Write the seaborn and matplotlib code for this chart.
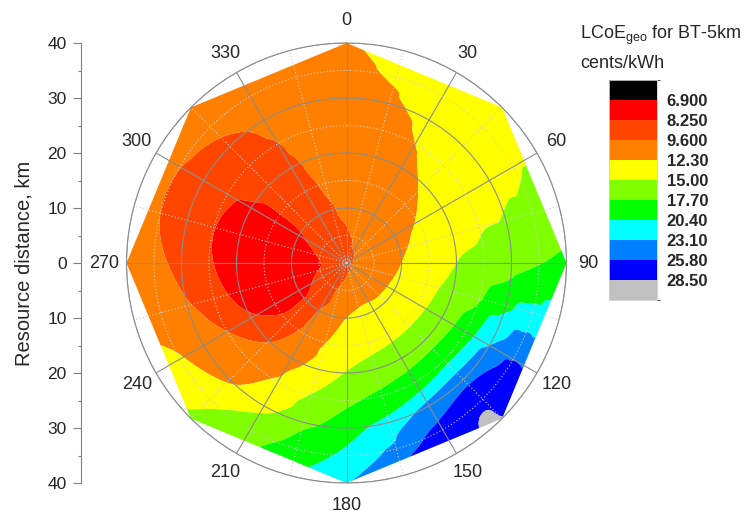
import numpy as np
import matplotlib
matplotlib.use("Agg")
import matplotlib.pyplot as plt
import matplotlib.tri as mtri
from matplotlib.colors import ListedColormap, BoundaryNorm
from matplotlib.cm import ScalarMappable
from matplotlib.patches import Polygon
from matplotlib.ticker import FixedLocator, FuncFormatter
import seaborn as sns

# Sample ring: bearings (deg, clockwise from north) and resource distances (km)
bearing_deg = [0, 45, 90, 135, 180, 225, 270, 315]
distance_km = [5, 10, 15, 20, 25, 30, 35, 40]

# LCoE (cents/kWh) at the plant site and along each bearing
lcoe_center = 9.2
lcoe_b000 = [9.45, 9.9, 10.4, 10.8, 11.15, 11.5, 11.9, 12.17]
lcoe_b045 = [10.1, 11.0, 11.8, 12.5, 13.0, 13.4, 13.8, 14.1]
lcoe_b090 = [10.9, 12.3, 13.7, 15.0, 15.9, 16.8, 17.6, 18.3]
lcoe_b135 = [11.2, 12.8, 14.5, 16.6, 19.6, 24.8, 28.1, 28.55]
lcoe_b180 = [10.2, 12.3, 13.7, 15.1, 17.1, 19.2, 21.0, 23.0]
lcoe_b225 = [8.9, 8.5, 8.7, 9.5, 10.8, 12.0, 14.4, 15.5]
lcoe_b270 = [8.2, 7.4, 7.1, 7.5, 8.4, 9.2, 10.0, 10.6]
lcoe_b315 = [8.9, 8.6, 8.6, 8.7, 8.95, 9.35, 9.9, 10.3]

# Contour levels and legend
level_bounds = [6.9, 8.25, 9.6, 12.3, 15.0, 17.7, 20.4, 23.1, 25.8, 28.5]
level_labels = ["6.900", "8.250", "9.600", "12.30", "15.00",
                "17.70", "20.40", "23.10", "25.80", "28.50"]
band_colors = ["#000000", "#FF0000", "#FF4500", "#FF8000", "#FFFF00",
               "#80FF00", "#00FF00", "#00FFFF", "#0080FF", "#0000FF", "#C0C0C0"]

angle_ticks = list(range(0, 360, 30))
distance_ticks = [-40, -30, -20, -10, 0, 10, 20, 30, 40]

sns.set_style("white")
plt.rcParams["font.family"] = ["Liberation Sans", "DejaVu Sans"]
plt.rcParams["mathtext.fontset"] = "custom"
plt.rcParams["mathtext.rm"] = "Liberation Sans"

fig = plt.figure(figsize=(7.53, 5.15), dpi=100)
W, H = 753, 515
rect = [126.5 / W, (H - 483) / H, 440 / W, 440 / H]

# ---- field on the (bearing, distance) grid, wrapped round at 360 deg ----
profiles = [lcoe_b000, lcoe_b045, lcoe_b090, lcoe_b135,
            lcoe_b180, lcoe_b225, lcoe_b270, lcoe_b315]
theta_nodes = np.array(bearing_deg + [360], float)
r_nodes = np.array([0.0] + distance_km, float)
grid = np.empty((len(r_nodes), len(theta_nodes)))
grid[0, :] = lcoe_center
for j, prof in enumerate(profiles):
    grid[1:, j] = prof
grid[1:, -1] = grid[1:, 0]

# triangulate the rectangular (bearing, distance) grid explicitly
nt, nr = len(theta_nodes), len(r_nodes)
T, R = np.meshgrid(theta_nodes, r_nodes)
tris = []
for i in range(nr - 1):
    for j in range(nt - 1):
        a = i * nt + j
        b, c, d = a + 1, a + nt, a + nt + 1
        tris += [[a, b, d], [a, d, c]]
theta_scale = 4.5  # deg per grid unit, keeps cells roughly isotropic
tri_p = mtri.Triangulation(T.ravel() / theta_scale, R.ravel(), np.array(tris))
interp = mtri.CubicTriInterpolator(tri_p, grid.ravel(), kind="geom")
tri_f, z_f = mtri.UniformTriRefiner(tri_p).refine_field(grid.ravel(), interp, subdiv=5)

th_f = np.deg2rad(tri_f.x * theta_scale)
x_f = tri_f.y * np.sin(th_f)
y_f = tri_f.y * np.cos(th_f)
tri_xy = mtri.Triangulation(x_f, y_f, tri_f.triangles)
# drop collapsed triangles at the origin
p = tri_xy.triangles
area = 0.5 * np.abs((x_f[p[:, 1]] - x_f[p[:, 0]]) * (y_f[p[:, 2]] - y_f[p[:, 0]])
                    - (x_f[p[:, 2]] - x_f[p[:, 0]]) * (y_f[p[:, 1]] - y_f[p[:, 0]]))
tri_xy.set_mask(area < 1e-9)

# ---- filled contours on a Cartesian plane, bounded by the sample octagon ----
ax = fig.add_axes(rect)
levels = [0.0] + level_bounds + [100.0]
cs = ax.tricontourf(tri_xy, z_f, levels=levels, colors=band_colors, antialiased=True)
hull_th = np.deg2rad(bearing_deg)
octagon = Polygon(np.column_stack([40 * np.sin(hull_th), 40 * np.cos(hull_th)]),
                  closed=True, transform=ax.transData, facecolor="none", edgecolor="none")
ax.add_patch(octagon)
cs.set_clip_path(octagon)

ax.set_xlim(-40, 40)
ax.set_ylim(-40, 40)
ax.set_aspect("equal")
ax.set_facecolor("none")
for s in ("top", "right", "bottom"):
    ax.spines[s].set_visible(False)
ax.spines["left"].set_position(("outward", 32.5))
ax.spines["left"].set_color("#808080")
ax.set_xticks([])
ax.yaxis.set_major_locator(FixedLocator(distance_ticks))
ax.yaxis.set_minor_locator(FixedLocator([v + 5 for v in distance_ticks[:-1]]))
ax.yaxis.set_major_formatter(FuncFormatter(lambda v, p: f"{abs(v):.0f}"))
ax.tick_params(axis="y", which="major", length=6, width=0.8, color="#808080",
               labelsize=12.5, pad=4.5, left=True)
ax.tick_params(axis="y", which="minor", length=2.5, width=0.8, color="#808080", left=True)
ax.set_ylabel("Resource distance, km", fontsize=14.5, labelpad=10)

# ---- polar grid overlay ----
pax = fig.add_axes(rect, projection="polar")
pax.set_facecolor("none")
pax.set_theta_zero_location("N")
pax.set_theta_direction(-1)
pax.set_rlim(0, 40)
pax.set_xticks(np.deg2rad(angle_ticks))
pax.set_xticklabels([str(a) for a in angle_ticks], fontsize=13)
pax.set_xticks(np.deg2rad([a + 15 for a in angle_ticks]), minor=True)
pax.set_yticks([10, 20, 30, 40])
pax.set_yticks([5, 15, 25, 35], minor=True)
pax.set_yticklabels([])
pax.grid(True, which="major", color="#8c8c8c", lw=0.8, ls="-")
pax.grid(True, which="minor", color="#d0d0d0", lw=0.8, ls=(0, (1, 2)))
pax.tick_params(axis="x", which="major", pad=5.5)
pax.tick_params(which="minor", length=0)
pax.spines["polar"].set_color("#8c8c8c")
pax.spines["polar"].set_linewidth(0.8)

# ---- legend ----
cax = fig.add_axes([609 / W, (H - 300) / H, 48 / W, 220 / H])
cmap = ListedColormap(band_colors)
norm = BoundaryNorm(levels, cmap.N)
sm = ScalarMappable(norm=norm, cmap=cmap)
cb = fig.colorbar(sm, cax=cax, ticks=level_bounds, spacing="uniform")
cb.ax.invert_yaxis()
cb.ax.set_yticklabels(level_labels, fontweight="bold", fontsize=12)
cb.ax.tick_params(length=0, pad=7)
cb.outline.set_edgecolor("#d0d0d0")
cb.outline.set_linewidth(0.6)

fig.text(580 / W, 1 - 35 / H, r"LCoE$_{\mathrm{geo}}$ for BT-5km", fontsize=13, va="center")
fig.text(580 / W, 1 - 63 / H, "cents/kWh", fontsize=13, va="center")

fig.savefig("out.png", dpi=100)
